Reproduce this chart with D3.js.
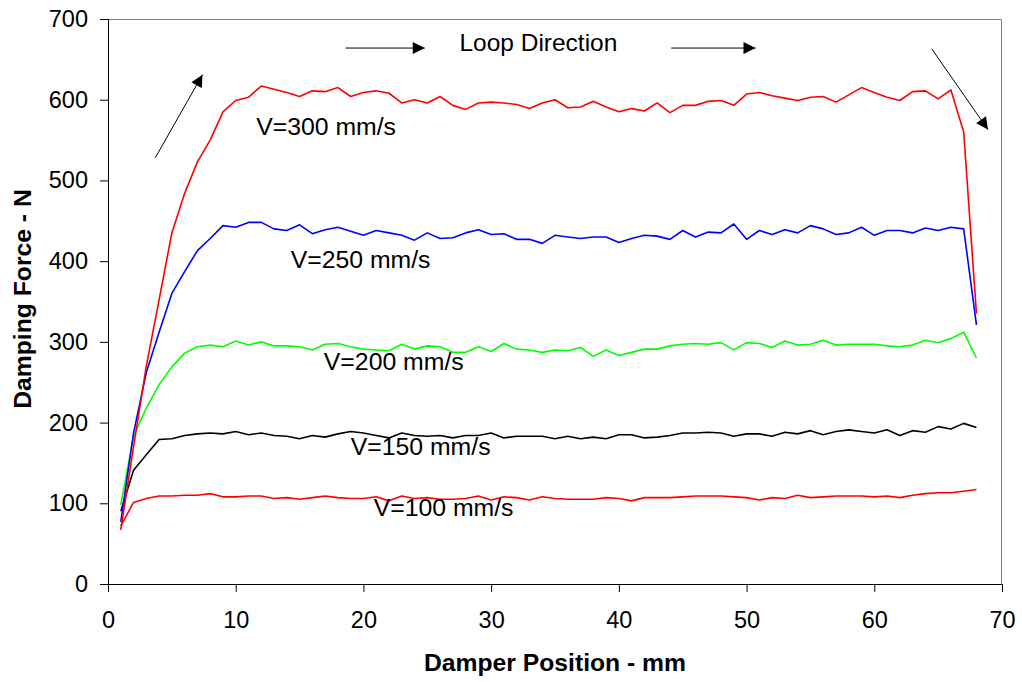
<!DOCTYPE html>
<html>
<head>
<meta charset="utf-8">
<script src="https://cdn.jsdelivr.net/npm/d3@7"></script>
<style>
  body { margin: 0; background: #fff; }
  svg { display: block; font-family: Arial, 'Liberation Sans', sans-serif; }
</style>
</head>
<body>
<div id="chart"></div>
<script>
// Data
const positions = [1, 2, 3, 4, 5, 6, 7, 8, 9, 10, 11, 12, 13, 14, 15, 16, 17, 18, 19, 20,
  21, 22, 23, 24, 25, 26, 27, 28, 29, 30, 31, 32, 33, 34, 35, 36, 37, 38, 39, 40,
  41, 42, 43, 44, 45, 46, 47, 48, 49, 50, 51, 52, 53, 54, 55, 56, 57, 58, 59, 60,
  61, 62, 63, 64, 65, 66, 67, 68];

const v100 = [72, 101, 106, 109, 109, 110, 110, 112, 108, 108,
  109, 109, 106, 107, 105, 107, 109, 107, 106, 106,
  108, 103, 109, 106, 107, 105, 105, 106, 109, 104,
  108, 107, 104, 108, 106, 105, 105, 105, 107, 106,
  103, 107, 107, 107, 108, 109, 109, 109, 108, 107,
  104, 107, 106, 110, 107, 108, 109, 109, 109, 108,
  109, 107, 110, 112, 113, 113, 115, 117];

const v150 = [90, 141, 160, 179, 180, 184, 186, 187, 186, 189,
  185, 187, 184, 183, 180, 184, 182, 186, 189, 187,
  184, 181, 187, 184, 183, 184, 181, 184, 184, 187,
  181, 183, 183, 183, 180, 183, 180, 182, 180, 185,
  185, 181, 182, 184, 187, 187, 188, 187, 183, 186,
  186, 183, 188, 186, 190, 185, 189, 191, 189, 187,
  191, 184, 190, 188, 195, 192, 199, 194];

const v200 = [98, 183, 218, 247, 269, 286, 294, 296, 294, 301,
  296, 300, 295, 295, 294, 290, 297, 298, 294, 291,
  290, 289, 297, 291, 295, 294, 287, 287, 294, 288,
  298, 291, 290, 287, 290, 289, 293, 282, 290, 283,
  287, 291, 291, 295, 297, 298, 297, 299, 290, 299,
  298, 293, 301, 296, 297, 302, 296, 297, 297, 297,
  295, 294, 296, 302, 299, 304, 312, 280];

const v250 = [77, 187, 262, 312, 360, 387, 413, 428, 444, 442,
  448, 448, 440, 438, 445, 434, 439, 442, 437, 432,
  438, 435, 432, 426, 435, 428, 429, 435, 439, 433,
  434, 427, 427, 422, 432, 430, 428, 430, 430, 423,
  428, 432, 431, 427, 438, 430, 436, 435, 446, 427,
  438, 433, 439, 435, 444, 440, 433, 435, 442, 432,
  438, 438, 435, 441, 438, 442, 440, 321];

const v300 = [67, 170, 270, 352, 435, 484, 523, 550, 585, 599,
  603, 617, 613, 609, 604, 611, 610, 615, 604, 609,
  611, 608, 596, 600, 596, 604, 593, 588, 596, 597,
  596, 594, 589, 596, 600, 590, 591, 598, 591, 585,
  589, 586, 596, 584, 593, 593, 598, 599, 593, 607,
  609, 605, 602, 599, 603, 604, 597, 606, 615, 609,
  603, 599, 610, 611, 601, 612, 560, 335];

const seriesNames = ['V=100 mm/s', 'V=150 mm/s', 'V=200 mm/s', 'V=250 mm/s', 'V=300 mm/s'];
const seriesValues = [v100, v150, v200, v250, v300];
const seriesColors = ['#ff0000', '#000000', '#00ff00', '#0000ff', '#ff0000'];
// label anchor (start of text) in data units
const labelX = [20.8, 19.0, 16.9, 14.3, 11.6];
const labelY = [84, 160, 265, 392, 556];

const xTicks = [0, 10, 20, 30, 40, 50, 60, 70];
const yTicks = [0, 100, 200, 300, 400, 500, 600, 700];

// arrows in data units: [x1, y1, x2, y2]
const arrows = [
  [3.7, 528, 7.4, 631],
  [18.6, 664, 24.8, 664],
  [44.1, 664, 50.7, 664],
  [64.5, 663, 68.9, 563]
];

// Dimensions
const dimensions = {
  width: 1022,
  height: 682,
  margin: { top: 19, right: 20, bottom: 98, left: 108 }
};
dimensions.ctrWidth = dimensions.width - dimensions.margin.left - dimensions.margin.right;
dimensions.ctrHeight = dimensions.height - dimensions.margin.top - dimensions.margin.bottom;

const svg = d3.select('#chart')
  .append('svg')
  .attr('width', dimensions.width)
  .attr('height', dimensions.height);

svg.append('defs').append('marker')
  .attr('id', 'head')
  .attr('viewBox', '0 0 10 10')
  .attr('refX', 10)
  .attr('refY', 5)
  .attr('markerWidth', 13)
  .attr('markerHeight', 12)
  .attr('markerUnits', 'userSpaceOnUse')
  .attr('orient', 'auto')
  .append('path')
  .attr('d', 'M0,0 L10,5 L0,10 Z')
  .attr('fill', '#000');

const ctr = svg.append('g')
  .attr('transform', `translate(${dimensions.margin.left}, ${dimensions.margin.top})`);

// Scales
const xScale = d3.scaleLinear()
  .domain([0, 70])
  .range([0, dimensions.ctrWidth]);

const yScale = d3.scaleLinear()
  .domain([0, 700])
  .range([dimensions.ctrHeight, 0]);

// frame (top/right grey)
ctr.append('path')
  .attr('d', `M0,0.5 H${dimensions.ctrWidth - 0.5} V${dimensions.ctrHeight}`)
  .attr('fill', 'none')
  .attr('stroke', '#808080')
  .attr('stroke-width', 1);

// Lines
const lineGenerator = d3.line()
  .x((d, i) => xScale(positions[i]))
  .y(d => yScale(d));

seriesValues.forEach((vals, k) => {
  ctr.append('path')
    .datum(vals)
    .attr('d', lineGenerator)
    .attr('fill', 'none')
    .attr('stroke', seriesColors[k])
    .attr('stroke-width', 1.6)
    .attr('stroke-linejoin', 'round');
});

// Series labels
ctr.selectAll('.series-label')
  .data(seriesNames)
  .join('text')
  .attr('class', 'series-label')
  .attr('x', (d, i) => xScale(labelX[i]))
  .attr('y', (d, i) => yScale(labelY[i]))
  .attr('font-size', '24.8px')
  .attr('fill', '#000')
  .text(d => d);

// Axes
const xAxis = d3.axisBottom(xScale)
  .tickValues(xTicks)
  .tickSize(8)
  .tickPadding(19);

const xAxisGroup = ctr.append('g')
  .attr('transform', `translate(0, ${dimensions.ctrHeight})`)
  .call(xAxis);

const yAxis = d3.axisLeft(yScale)
  .tickValues(yTicks)
  .tickSize(8)
  .tickPadding(12);

const yAxisGroup = ctr.append('g').call(yAxis);

[xAxisGroup, yAxisGroup].forEach(g => {
  g.selectAll('.tick line').attr('stroke', '#000');
  g.selectAll('.tick text')
    .attr('font-size', '23.5px')
    .attr('font-family', 'Arial, "Liberation Sans", sans-serif')
    .attr('fill', '#000');
});
xAxisGroup.select('.domain').attr('stroke', '#000').attr('d', `M0,0.5H${dimensions.ctrWidth}`);
yAxisGroup.select('.domain').attr('stroke', '#000').attr('d', `M0.5,0V${dimensions.ctrHeight}`);

// Arrows
ctr.selectAll('.arrow')
  .data(arrows)
  .join('line')
  .attr('class', 'arrow')
  .attr('x1', d => xScale(d[0]))
  .attr('y1', d => yScale(d[1]))
  .attr('x2', d => xScale(d[2]))
  .attr('y2', d => yScale(d[3]))
  .attr('stroke', '#000')
  .attr('stroke-width', 1)
  .attr('marker-end', 'url(#head)');

ctr.append('text')
  .attr('x', xScale(33.7))
  .attr('y', yScale(664) + 3)
  .attr('text-anchor', 'middle')
  .attr('font-size', '24.5px')
  .text('Loop Direction');

// Axis titles
svg.append('text')
  .attr('x', 555)
  .attr('y', 671)
  .attr('text-anchor', 'middle')
  .attr('font-size', '24.7px')
  .attr('font-weight', 'bold')
  .text('Damper Position - mm');

svg.append('text')
  .attr('x', -299)
  .attr('y', 31)
  .attr('text-anchor', 'middle')
  .attr('transform', 'rotate(-90)')
  .attr('font-size', '24.7px')
  .attr('font-weight', 'bold')
  .text('Damping Force - N');
</script>
</body>
</html>
